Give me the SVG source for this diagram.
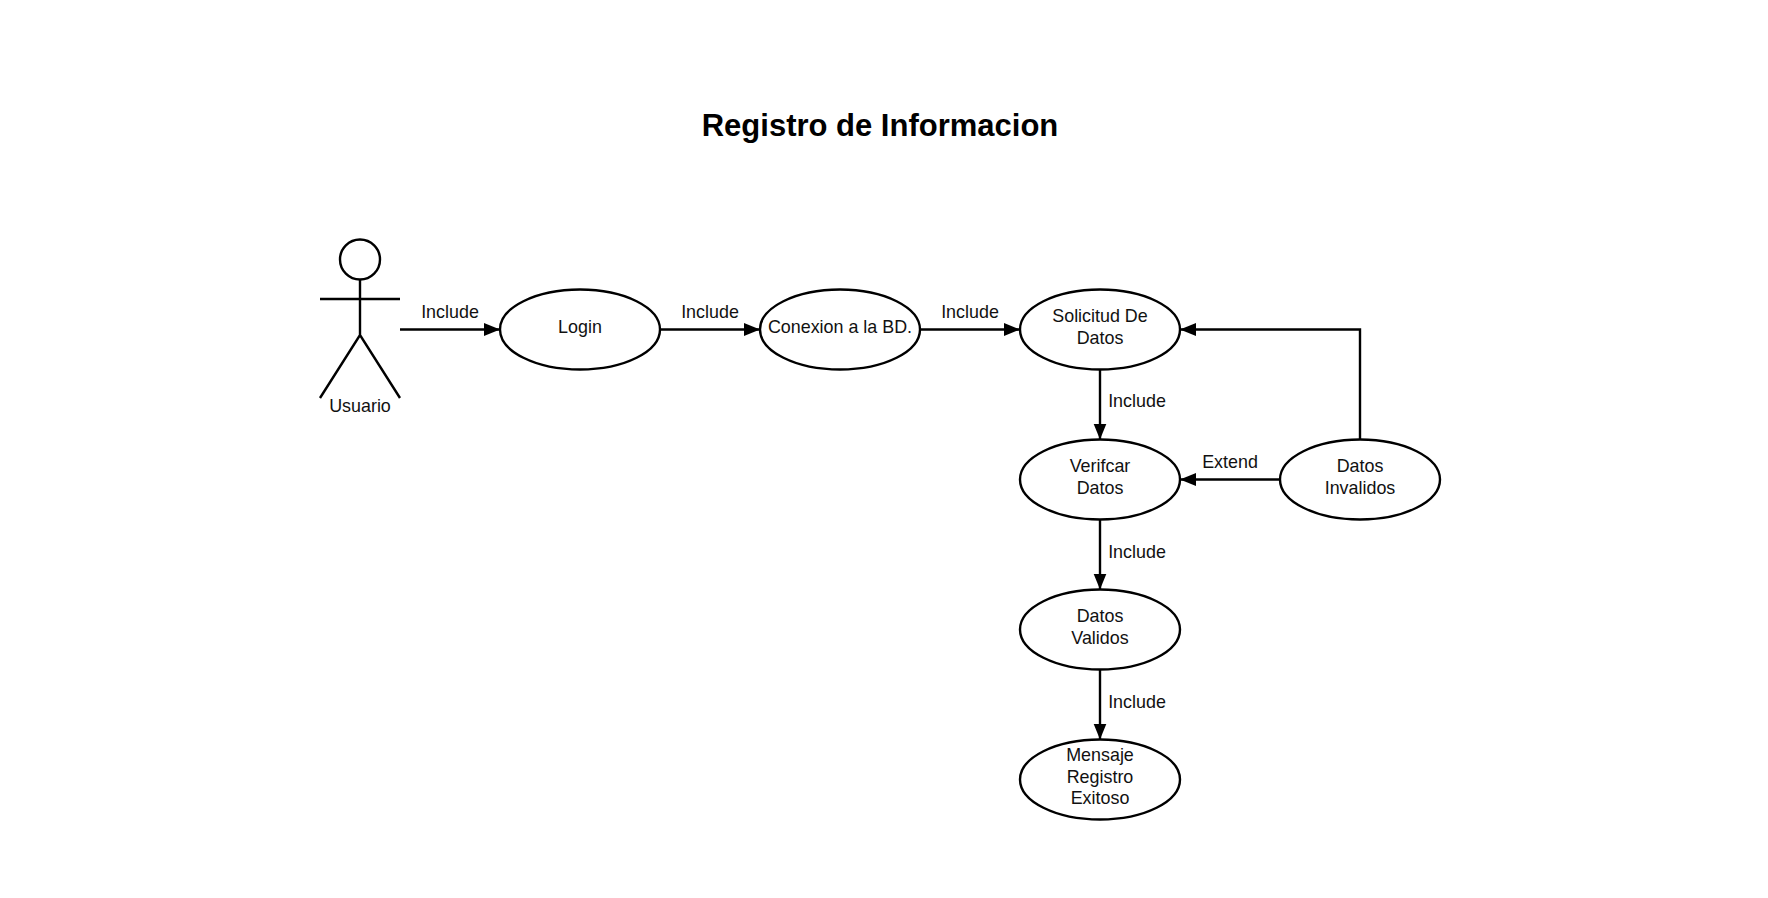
<svg xmlns="http://www.w3.org/2000/svg" width="1768" height="898" viewBox="0 0 1768 898">
<defs>
<style>
text{font-family:"Liberation Sans",Arial,sans-serif;font-size:17.9px;fill:#111;text-anchor:middle}
.title{font-size:31px;font-weight:bold;fill:#000}
.s{fill:#fff;stroke:#000;stroke-width:2.4}
.l{fill:none;stroke:#000;stroke-width:2.4}
</style>
<marker id="a" markerUnits="userSpaceOnUse" markerWidth="16" markerHeight="14" refX="16" refY="7" orient="auto" viewBox="0 0 16 14"><path d="M0 0.500L16 7L0 13.500Z" fill="#000"/></marker>
</defs>
<rect width="1768" height="898" fill="#fff"/>
<text class="title" x="880" y="136">Registro de Informacion</text>
<g id="connectors">
<path class="l" marker-end="url(#a)" d="M400 329.500H500"/>
<path class="l" marker-end="url(#a)" d="M660 329.500H760"/>
<path class="l" marker-end="url(#a)" d="M920 329.500H1020"/>
<path class="l" marker-end="url(#a)" d="M1100 370V439.500"/>
<path class="l" marker-end="url(#a)" d="M1100 520V589.500"/>
<path class="l" marker-end="url(#a)" d="M1100 670V739.500"/>
<path class="l" marker-end="url(#a)" d="M1280 479.500H1180"/>
<path class="l" marker-end="url(#a)" d="M1360 439.500V329.500H1180"/>
<text x="450" y="318">Include</text>
<text x="710" y="318">Include</text>
<text x="970" y="318">Include</text>
<text x="1137" y="407">Include</text>
<text x="1137" y="557.500">Include</text>
<text x="1137" y="708">Include</text>
<text x="1230" y="468">Extend</text>
</g>
<g id="actor">
<circle class="s" cx="360" cy="259.500" r="20"/>
<path class="l" d="M360 279.500V335M320 299H400M320 398L360 335L400 398"/>
<text x="360" y="412">Usuario</text>
</g>
<g id="login"><ellipse class="s" cx="580" cy="329.500" rx="80" ry="40"/><text x="580" y="333">Login</text></g>
<g id="conexion"><ellipse class="s" cx="840" cy="329.500" rx="80" ry="40"/><text x="840" y="333">Conexion a la BD.</text></g>
<g id="solicitud"><ellipse class="s" cx="1100" cy="329.500" rx="80" ry="40"/><text x="1100" y="322">Solicitud De</text><text x="1100" y="344">Datos</text></g>
<g id="verificar"><ellipse class="s" cx="1100" cy="479.500" rx="80" ry="40"/><text x="1100" y="472">Verifcar</text><text x="1100" y="494">Datos</text></g>
<g id="invalidos"><ellipse class="s" cx="1360" cy="479.500" rx="80" ry="40"/><text x="1360" y="472">Datos</text><text x="1360" y="494">Invalidos</text></g>
<g id="validos"><ellipse class="s" cx="1100" cy="629.500" rx="80" ry="40"/><text x="1100" y="622">Datos</text><text x="1100" y="644">Validos</text></g>
<g id="mensaje"><ellipse class="s" cx="1100" cy="779.500" rx="80" ry="40"/><text x="1100" y="761">Mensaje</text><text x="1100" y="783">Registro</text><text x="1100" y="804">Exitoso</text></g>
</svg>
